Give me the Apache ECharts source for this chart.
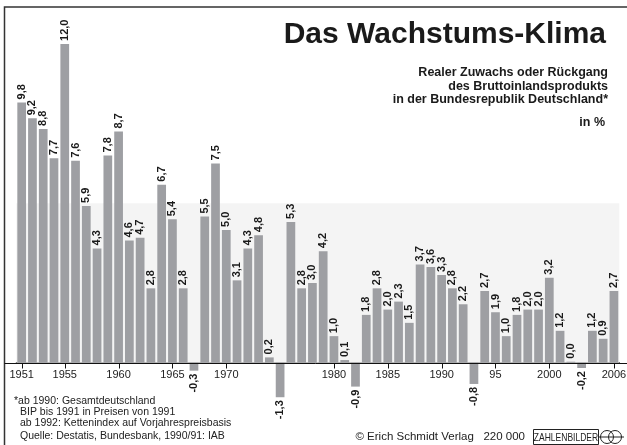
<!DOCTYPE html>
<html>
<head>
<meta charset="utf-8">
<script src="https://cdn.jsdelivr.net/npm/echarts@6/dist/echarts.min.js"></script>
<style>
  html, body { margin: 0; padding: 0; background: #fff; }
  #chart { width: 627px; height: 445px; }
</style>
</head>
<body>
<div id="chart"></div>
<script>
// Jahre 1951 - 2006
const years = [];
for (let y = 1951; y <= 2006; y++) years.push(String(y));

// Realer Zuwachs des BIP in %
const growth = [
    9.8, 9.2, 8.8, 7.7, 12.0, 7.6, 5.9, 4.3, 7.8, 8.7,
    4.6, 4.7, 2.8, 6.7, 5.4, 2.8, -0.3, 5.5, 7.5, 5.0,
    3.1, 4.3, 4.8, 0.2, -1.3, 5.3, 2.8, 3.0, 4.2, 1.0,
    0.1, -0.9, 1.8, 2.8, 2.0, 2.3, 1.5, 3.7, 3.6, 3.3,
    2.8, 2.2, -0.8, 2.7, 1.9, 1.0, 1.8, 2.0, 2.0, 3.2,
    1.2, 0.0, -0.2, 1.2, 0.9, 2.7
];

// beschriftete Jahre unter der Achse
const tickYears = ['1951', '1955', '1960', '1965', '1970', '1980', '1985', '1990', '1995', '2000', '2006'];
const tickTexts = ['1951', '1955', '1960', '1965', '1970', '1980', '1985', '1990', '95', '2000', '2006'];

const footnotes = [
    '*ab 1990: Gesamtdeutschland',
    'BIP bis 1991 in Preisen von 1991',
    'ab 1992: Kettenindex auf Vorjahrespreisbasis',
    'Quelle: Destatis, Bundesbank, 1990/91: IAB'
];

const FONT = '"Liberation Sans", Arial, Helvetica, sans-serif';
const BAR = '#9e9fa3';

const chart = echarts.init(document.getElementById('chart'));

const barData = growth.map(function (v) {
    if (v < 0) {
        return { value: v, label: { position: 'bottom', align: 'right' } };
    }
    return v;
});

function isTickYear(i, v) {
    return tickYears.indexOf(v) >= 0;
}

// Gitter endet an der Nulllinie, negative Balken ragen darunter hinaus
const option = {
    animation: false,
    grid: {
        left: 16.3, right: 7.7, top: 17.4, bottom: 82.3,
        containLabel: false,
        outerBoundsMode: 'none'
    },
    xAxis: {
        type: 'category',
        data: years,
        axisLine: { show: true, onZero: false, lineStyle: { color: '#111', width: 1 } },
        axisTick: { show: false },
        axisLabel: {
            margin: 7,
            fontFamily: FONT,
            fontSize: 11,
            color: '#222',
            interval: isTickYear,
            formatter: function (v) { return tickTexts[tickYears.indexOf(v)]; }
        }
    },
    yAxis: {
        type: 'value',
        min: 0,
        max: 13,
        axisLine: { show: false },
        axisTick: { show: false },
        axisLabel: { show: false },
        splitLine: { show: false }
    },
    series: [{
        type: 'bar',
        data: barData,
        clip: false,
        barCategoryGap: '19%',
        barMinHeight: 1,
        itemStyle: { color: BAR },
        label: {
            show: true,
            position: 'top',
            rotate: 90,
            align: 'left',
            verticalAlign: 'middle',
            distance: 3,
            fontFamily: FONT,
            fontSize: 11,
            fontWeight: 'bold',
            color: '#1a1a1a',
            formatter: function (p) { return p.value.toFixed(1).replace('.', ','); }
        },
        markArea: {
            silent: true,
            itemStyle: { color: '#f4f4f4' },
            data: [[{ yAxis: 0 }, { yAxis: 6 }]]
        },
        z: 3
    }]
};

chart.setOption(option);

// Nulllinie über die ganze Breite
const zeroY = Math.round(chart.convertToPixel({ gridIndex: 0 }, [0, 0])[1]) + 0.5;

// Teilstriche unter den beschrifteten Jahren
const ticks = tickYears.map(function (y) {
    const px = chart.convertToPixel({ gridIndex: 0 }, [years.indexOf(y), 0])[0];
    const x = Math.round(px) + 0.5;
    return {
        type: 'line',
        shape: { x1: x, y1: zeroY, x2: x, y2: zeroY + 5 },
        style: { stroke: '#111', lineWidth: 1 },
        z: 10
    };
});

chart.setOption({
    graphic: ticks.concat([
        // Rahmen oben und links
        {
            type: 'polyline',
            shape: { points: [[4.5, 445], [4.5, 7], [627, 7]] },
            style: { stroke: '#333', lineWidth: 1.5, fill: null },
            z: 10
        },
        {
            type: 'line',
            shape: { x1: 4.5, y1: zeroY, x2: 627, y2: zeroY },
            style: { stroke: '#111', lineWidth: 1 },
            z: 10
        },
        {
            type: 'text',
            style: {
                text: 'Das Wachstums-Klima',
                x: 606, y: 35, align: 'right', verticalAlign: 'middle',
                font: 'bold 30px ' + FONT, fill: '#1a1a1a'
            }
        },
        {
            type: 'text',
            style: {
                text: 'Realer Zuwachs oder Rückgang\ndes Bruttoinlandsprodukts\nin der Bundesrepublik Deutschland*',
                x: 608, y: 66, align: 'right', verticalAlign: 'top',
                font: 'bold 12.5px ' + FONT, lineHeight: 13.5, fill: '#1a1a1a'
            }
        },
        {
            type: 'text',
            style: {
                text: 'in %',
                x: 605, y: 123, align: 'right', verticalAlign: 'middle',
                font: 'bold 12.5px ' + FONT, fill: '#1a1a1a'
            }
        },
        {
            type: 'text',
            style: {
                text: footnotes[0],
                x: 14, y: 401, verticalAlign: 'middle',
                font: '10.5px ' + FONT, fill: '#222'
            }
        },
        {
            type: 'text',
            style: {
                text: footnotes[1] + '\n' + footnotes[2],
                x: 20, y: 406, verticalAlign: 'top', lineHeight: 11.5,
                font: '10.5px ' + FONT, fill: '#222'
            }
        },
        {
            type: 'text',
            style: {
                text: footnotes[3],
                x: 20, y: 436, verticalAlign: 'middle',
                font: '10.5px ' + FONT, fill: '#222'
            }
        },
        {
            type: 'text',
            style: {
                text: '© Erich Schmidt Verlag   220 000',
                x: 525, y: 437, align: 'right', verticalAlign: 'middle',
                font: '11.5px ' + FONT, fill: '#222'
            }
        },
        {
            type: 'rect',
            shape: { x: 533.5, y: 429.5, width: 65, height: 15 },
            style: { fill: '#fff', stroke: '#222', lineWidth: 1 }
        },
        {
            type: 'text',
            x: 566, y: 437.5, scaleX: 0.74,
            style: {
                text: 'ZAHLENBILDER',
                x: 0, y: 0, align: 'center', verticalAlign: 'middle',
                font: '11.5px ' + FONT, fill: '#222'
            }
        },
        {
            type: 'circle',
            shape: { cx: 607, cy: 437, r: 6.5 },
            style: { fill: null, stroke: '#222', lineWidth: 1 }
        },
        {
            type: 'circle',
            shape: { cx: 615, cy: 437, r: 6.5 },
            style: { fill: null, stroke: '#222', lineWidth: 1 }
        },
        {
            type: 'line',
            shape: { x1: 599, y1: 437, x2: 624, y2: 437 },
            style: { stroke: '#222', lineWidth: 1 }
        }
    ])
});
</script>
</body>
</html>
